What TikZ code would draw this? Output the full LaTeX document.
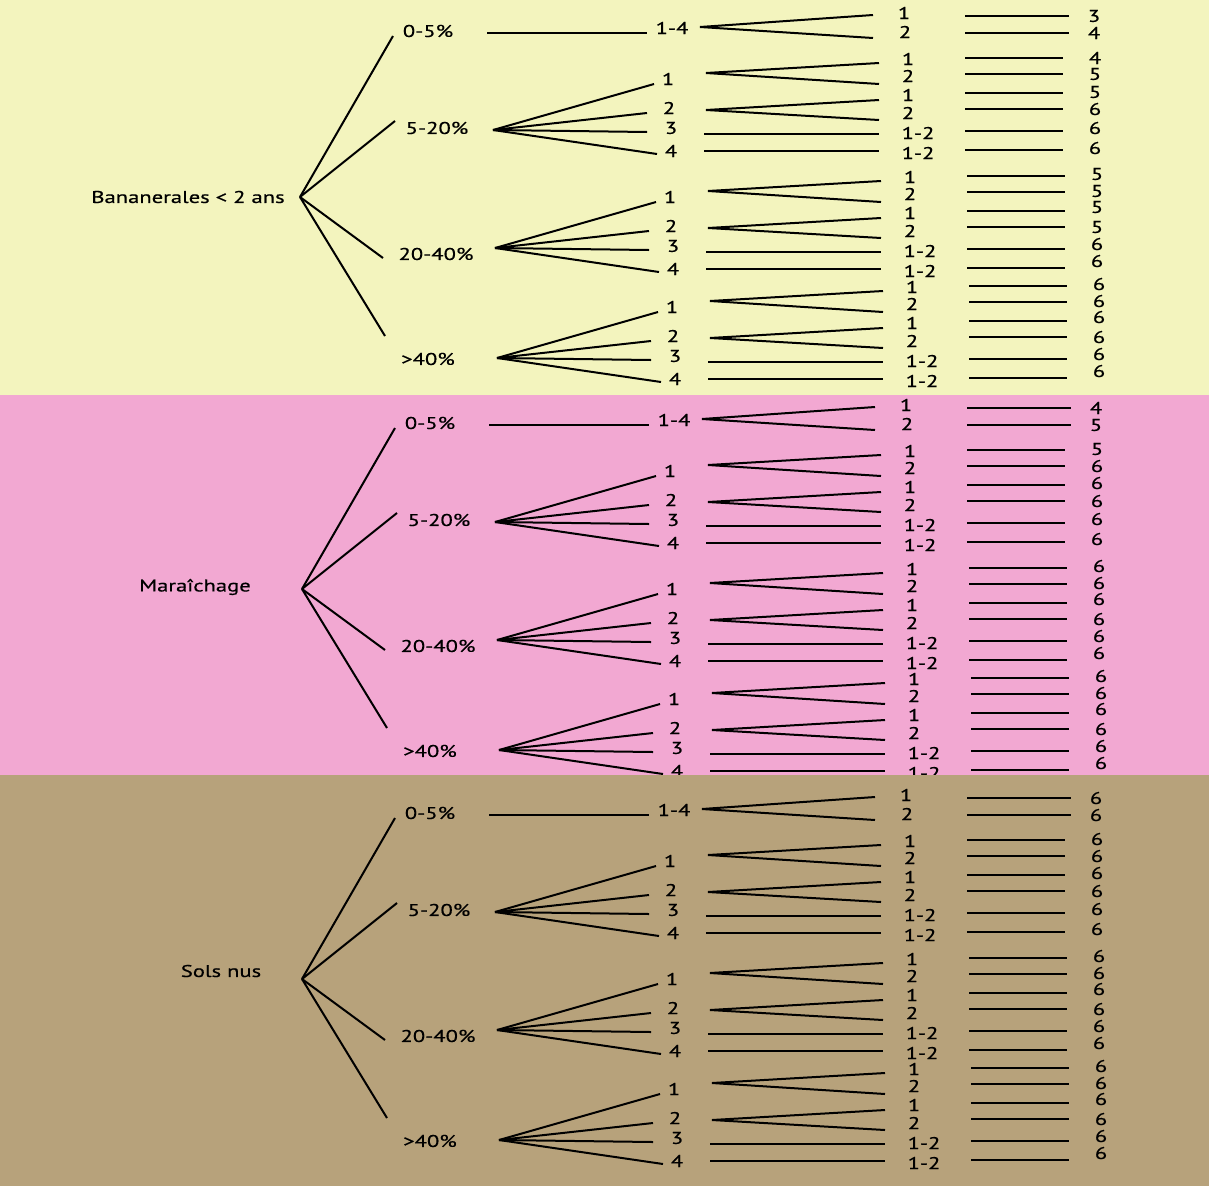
\documentclass[tikz,border=0pt]{standalone}
\usepackage{fontspec}
\setmainfont[FakeStretch=1.33,FakeBold=0.6]{PT Sans}
\definecolor{bandY}{HTML}{F3F4BE}
\definecolor{bandP}{HTML}{F2A8D2}
\definecolor{bandB}{HTML}{B7A27B}
\newcommand\treegrp[3]{%
\begin{scope}[shift={(#2)}]
 \coordinate (#1F) at (0,0);
 \foreach \i/\ex/\ey/\lx/\ly in {1/161/-46/175/-51,2/154/-17/176/-22,3/154/2/178/-2,4/164/24/178/21}{
   \coordinate (#1E\i) at (\ex,\ey);
   \draw[br] (#1F) -- (#1E\i);
   \node[lbl] (#1L\i) at (\lx,\ly) {\i};}
 \foreach \s/\sy/\ay/\by/\la/\lb in {a/-57/-67/-46/-71/-54,b/-20/-30/-10/-35/-17}{
   \coordinate (#1S\s) at (213,\sy);
   \coordinate (#1Sx\s) at (386,\ay);
   \coordinate (#1Sy\s) at (386,\by);
   \draw[br] (#1Sx\s) -- (#1S\s) -- (#1Sy\s);
   \node[lbl] (#1Nx\s) at (415,\la) {1};
   \node[lbl] (#1Ny\s) at (415,\lb) {2};}
 \foreach \k/\yy/\ly in {3/4/3,4/21/23}{
   \coordinate (#1Ta\k) at (211,\yy);
   \coordinate (#1Tb\k) at (386,\yy);
   \draw[br] (#1Ta\k) -- (#1Tb\k);
   \node[lbl] (#1T\k) at (425,\ly) {1-2};}
 \foreach \ry/\txt/\ty [count=\c] in {#3}{
   \coordinate (#1Ra\c) at (472,\ry);
   \coordinate (#1Rb\c) at (570,\ry);
   \draw[br] (#1Ra\c) -- (#1Rb\c);
   \node[lbl] (#1V\c) at (602,\ty) {\txt};}
\end{scope}}
\newcommand\treebase[5]{%
 \coordinate (#1R) at (300,197);
 \node[lbl] (#1Root) at (#3) {#2};
 \foreach \n/\ex/\ey/\lx/\ly/\t in {A/393/36/428/31/0-5\%,B/395/121/437/128/5-20\%,C/383/258/436/254/20-40\%,D/385/336/428/359/>40\%}{
   \coordinate (#1E\n) at (\ex,\ey);
   \draw[br] (#1R) -- (#1E\n);
   \node[lbl] (#1P\n) at (\lx,\ly) {\t};}
 \coordinate (#1Aa) at (487,33);
 \coordinate (#1Ab) at (647,33);
 \draw[br] (#1Aa) -- (#1Ab);
 \node[lbl] (#1A14) at (672,28) {1-4};
 \coordinate (#1AF) at (700,27);
 \coordinate (#1AF1) at (873,15);
 \coordinate (#1AF2) at (873,38);
 \draw[br] (#1AF1) -- (#1AF) -- (#1AF2);
 \node[lbl] (#1AN1) at (904,13) {1};
 \node[lbl] (#1AN2) at (905,32) {2};
 \coordinate (#1ARa1) at (965,16);
 \coordinate (#1ARb1) at (1069,16);
 \coordinate (#1ARa2) at (965,33);
 \coordinate (#1ARb2) at (1069,33);
 \draw[br] (#1ARa1) -- (#1ARb1);
 \draw[br] (#1ARa2) -- (#1ARb2);
 \node[lbl] (#1AV1) at (1094,16) {#4};
 \node[lbl] (#1AV2) at (1094,33) {#5};
}
\begin{document}
\begin{tikzpicture}[x=1pt,y=-1pt,
  br/.style={line width=2pt, draw=black},
  lbl/.style={font=\fontsize{17}{19}\selectfont, inner sep=0pt, text=black}]
\useasboundingbox (0,0) rectangle (1209,1186);
% yellow band
\fill[bandY] (0,0) rectangle (1209,395);
\begin{scope}
 \treebase{y}{Bananerales < 2 ans}{188,197}{3}{4}
 \treegrp{yB}{493,130}{-72/4/-72,-56/5/-56,-37/5/-38,-21/6/-21,1/6/-2,20/6/18}
 \treegrp{yC}{495,248}{-72/5/-74,-56/5/-57,-37/5/-41,-21/5/-21,1/6/-4,20/6/13}
 \treegrp{yD}{497,358}{-72/6/-74,-56/6/-57,-37/6/-41,-21/6/-21,1/6/-4,20/6/13}
\end{scope}
% pink band
\fill[bandP] (0,395) rectangle (1209,775);
\begin{scope}[shift={(2,392)}]
 \treebase{p}{Maraîchage}{193,195}{4}{5}
 \treegrp{pB}{493,130}{-72/5/-73,-56/6/-56,-37/6/-39,-21/6/-21,1/6/-3,20/6/17}
 \treegrp{pC}{495,248}{-72/6/-74,-56/6/-57,-37/6/-41,-21/6/-21,1/6/-4,20/6/13}
 \treegrp{pD}{497,358}{-72/6/-74,-56/6/-57,-37/6/-41,-21/6/-21,1/6/-4,20/6/13}
\end{scope}
% brown band
\fill[bandB] (0,775) rectangle (1209,1186);
\begin{scope}[shift={(2,782)}]
 \treebase{b}{Sols nus}{219,189}{6}{6}
 \treegrp{bB}{493,130}{-72/6/-73,-56/6/-56,-37/6/-39,-21/6/-21,1/6/-3,20/6/17}
 \treegrp{bC}{495,248}{-72/6/-74,-56/6/-57,-37/6/-41,-21/6/-21,1/6/-4,20/6/13}
 \treegrp{bD}{497,358}{-72/6/-74,-56/6/-57,-37/6/-41,-21/6/-21,1/6/-4,20/6/13}
\end{scope}
\end{tikzpicture}
\end{document}
